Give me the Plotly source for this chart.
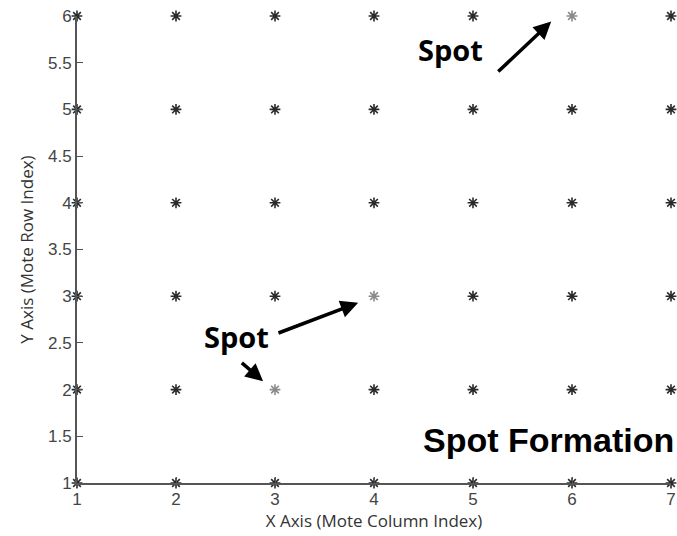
import plotly.graph_objects as go

cols = [1, 2, 3, 4, 5, 6, 7]
rows = [1, 2, 3, 4, 5, 6]
spots = [(6, 6), (4, 3), (3, 2)]

xs, ys, cs = [], [], []
for r in rows:
    for c in cols:
        xs.append(c)
        ys.append(r)
        cs.append("#8a8a8a" if (c, r) in spots else "#2a2a2a")

fig = go.Figure()
fig.add_trace(go.Scatter(
    x=xs, y=ys, mode="markers", cliponaxis=False,
    marker=dict(symbol="asterisk-open", size=9, color=cs,
                line=dict(width=1.6, color=cs)),
    showlegend=False, hoverinfo="skip"))

txt_font = dict(family="Open Sans", size=29, color="#000000")
ann = []
ann.append(dict(x=4.77, y=5.64, xref="x", yref="y", text="<b>Spot</b>",
                showarrow=False, font=txt_font))
ann.append(dict(x=2.61, y=2.57, xref="x", yref="y", text="<b>Spot</b>",
                showarrow=False, font=txt_font))
ann.append(dict(x=5.76, y=1.46, xref="x", yref="y", text="<b>Spot Formation</b>",
                showarrow=False,
                font=dict(family="Liberation Sans", size=34, color="#000000")))
arrows = [((5.24, 5.39), (5.79, 5.94)),
          ((3.02, 2.60), (3.84, 2.93)),
          ((2.65, 2.30), (2.88, 2.09))]
for (tx, ty), (hx, hy) in arrows:
    ann.append(dict(x=hx, y=hy, ax=tx, ay=ty, xref="x", yref="y",
                    axref="x", ayref="y", text="", showarrow=True,
                    arrowhead=2, arrowsize=1, arrowwidth=3.5,
                    arrowcolor="#000000"))

fig.update_layout(
    width=677, height=536,
    margin=dict(l=77, r=6, t=16, b=53),
    paper_bgcolor="white", plot_bgcolor="white",
    annotations=ann,
    xaxis=dict(range=[1, 7], tickmode="array", tickvals=cols,
               ticktext=[str(c) for c in cols], automargin=False,
               showgrid=False, zeroline=False, showline=True,
               linecolor="#555555", linewidth=2,
               ticks="inside", ticklen=6, tickcolor="#555555", tickwidth=1,
               tickfont=dict(family="Liberation Sans", size=17, color="#444444"),
               title=dict(text="X Axis (Mote Column Index)", standoff=6,
                          font=dict(family="Open Sans", size=17, color="#333333"))),
    yaxis=dict(range=[1, 6], tick0=1, dtick=0.5, automargin=False,
               showgrid=False, zeroline=False, showline=True,
               linecolor="#555555", linewidth=2,
               ticks="inside", ticklen=6, tickcolor="#555555", tickwidth=1,
               tickfont=dict(family="Liberation Sans", size=17, color="#444444"),
               title=dict(text="Y Axis (Mote Row Index)", standoff=10,
                          font=dict(family="Open Sans", size=17, color="#333333"))),
)

fig.write_html("out.html", config={"displayModeBar": False},
               post_script="document.body.style.margin='0';document.body.style.overflow='hidden';")
